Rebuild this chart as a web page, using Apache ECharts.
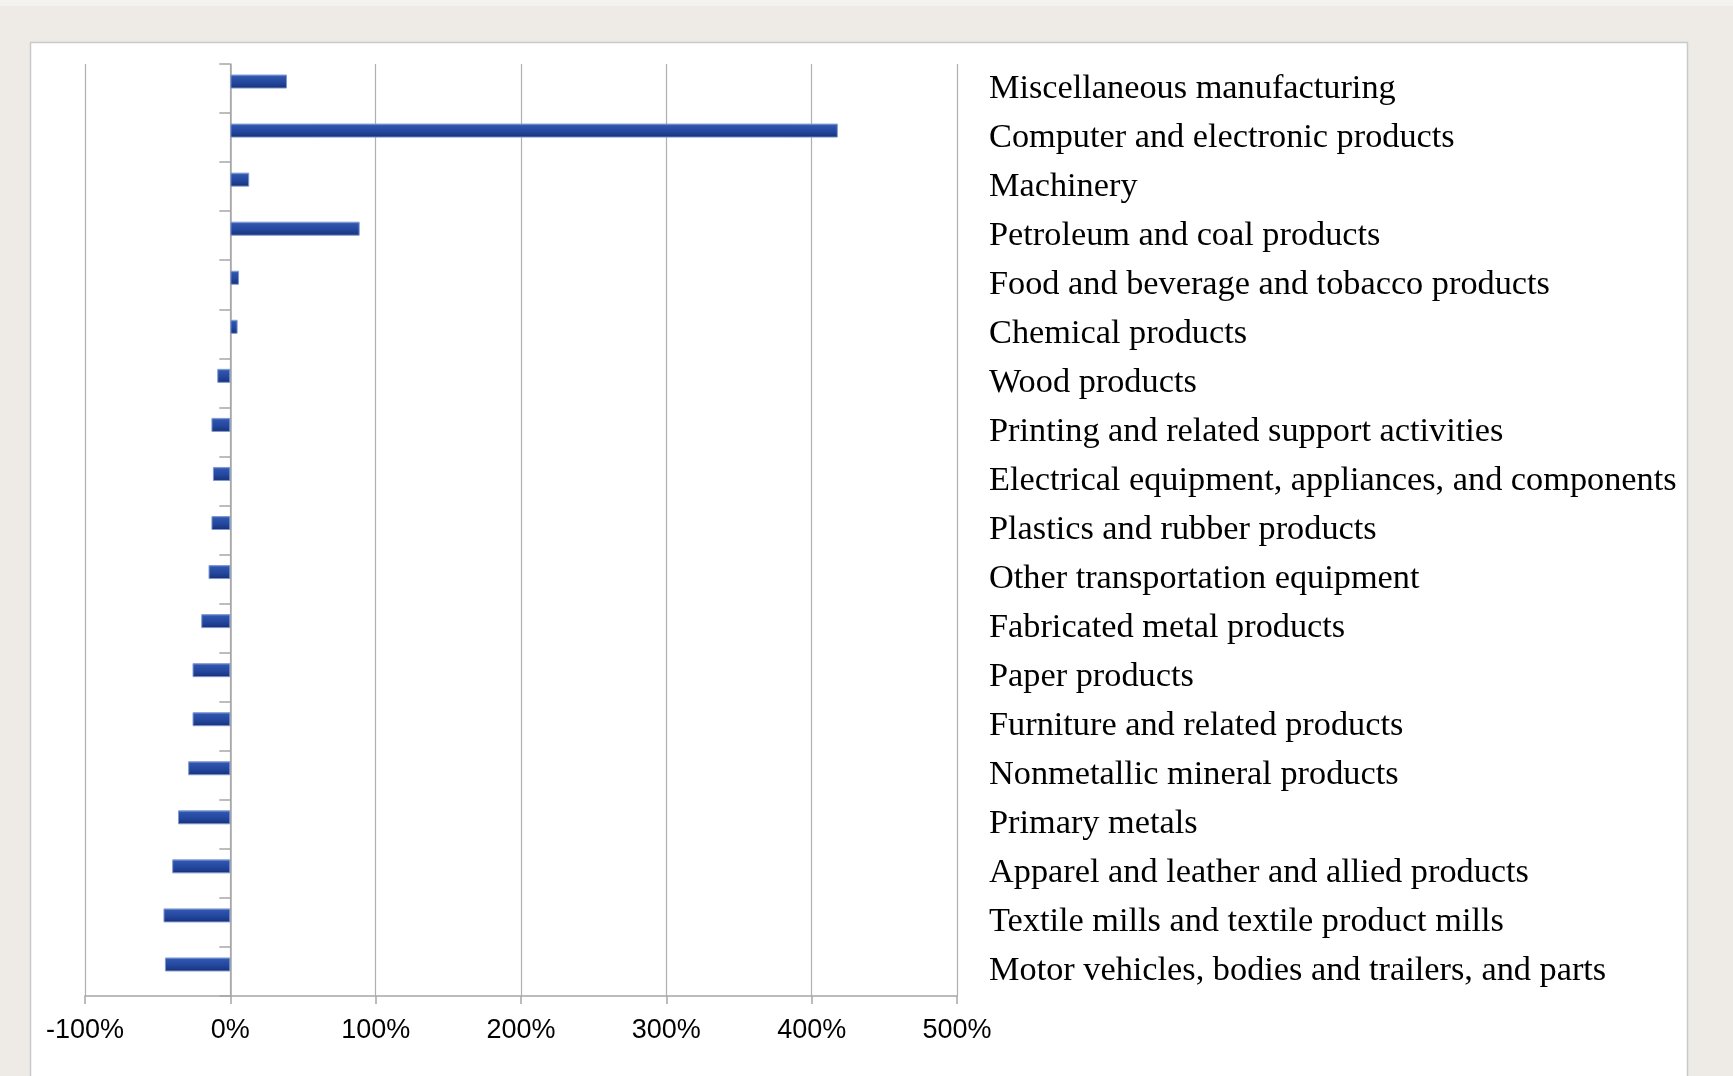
<!DOCTYPE html>
<html>
<head>
<meta charset="utf-8">
<script src="https://cdn.jsdelivr.net/npm/echarts@6/dist/echarts.min.js"></script>
<style>
html,body{margin:0;padding:0;background:#EEEBE6;}
#chart{width:1733px;height:1076px;}
</style>
</head>
<body>
<div id="chart"></div>
<script>
// Categories, top to bottom
const categories = [
  'Miscellaneous manufacturing',
  'Computer and electronic products',
  'Machinery',
  'Petroleum and coal products',
  'Food and beverage and tobacco products',
  'Chemical products',
  'Wood products',
  'Printing and related support activities',
  'Electrical equipment, appliances, and components',
  'Plastics and rubber products',
  'Other transportation equipment',
  'Fabricated metal products',
  'Paper products',
  'Furniture and related products',
  'Nonmetallic mineral products',
  'Primary metals',
  'Apparel and leather and allied products',
  'Textile mills and textile product mills',
  'Motor vehicles, bodies and trailers, and parts'
];
// Percent change (%)
const changeValues = [39, 418, 13, 89, 6, 5, -9, -13, -12, -13, -15, -20, -26, -26, -29, -36, -40, -46, -45];
// Empty second series (as in the original clustered bar layout)
const emptyValues = categories.map(() => null);
// X axis ticks (%)
const xTicks = [-100, 0, 100, 200, 300, 400, 500];

const chart = echarts.init(document.getElementById('chart'), null, {renderer: 'canvas'});

const barColor = new echarts.graphic.LinearGradient(0, 0, 0, 1, [
  {offset: 0, color: '#6F8ED4'},
  {offset: 0.15, color: '#2F55AD'},
  {offset: 0.55, color: '#24479F'},
  {offset: 0.82, color: '#1C3A88'},
  {offset: 1, color: '#132A63'}
]);

const option = {
  backgroundColor: '#EEEBE6',
  animation: false,
  graphic: [
    {type: 'rect', shape: {x: 0, y: 0, width: 1733, height: 6}, style: {fill: '#F4F2EF'}, silent: true, z: -10},
    {type: 'rect', shape: {x: 30.5, y: 42.5, width: 1657, height: 1050}, style: {fill: '#FFFFFF', stroke: '#C9C9C9', lineWidth: 1.5}, silent: true, z: -10}
  ],
  grid: {left: 85, right: 776, top: 64, bottom: 80, containLabel: false},
  xAxis: {
    type: 'value',
    min: xTicks[0],
    max: xTicks[xTicks.length - 1],
    interval: 100,
    axisLine: {show: true, onZero: false, lineStyle: {color: '#A6A6A6', width: 1.5}},
    axisTick: {show: true, inside: false, length: 8, lineStyle: {color: '#A6A6A6', width: 1.5}},
    splitLine: {show: true, lineStyle: {color: '#B0B0B0', width: 1.2}},
    axisLabel: {
      margin: 21,
      color: '#000000',
      fontFamily: "'Liberation Sans', Arial, sans-serif",
      fontSize: 27,
      formatter: v => v + '%'
    }
  },
  yAxis: [
    {
      type: 'category',
      data: categories,
      inverse: true,
      position: 'left',
      axisLine: {show: true, onZero: true, lineStyle: {color: '#A6A6A6', width: 1.5}},
      axisTick: {show: true, inside: false, length: 11, lineStyle: {color: '#A6A6A6', width: 1.5}},
      axisLabel: {show: false},
      splitLine: {show: false}
    },
    {
      type: 'category',
      data: categories,
      inverse: true,
      position: 'right',
      axisLine: {show: false},
      axisTick: {show: false},
      splitLine: {show: false},
      axisLabel: {
        show: true,
        margin: 32,
        align: 'left',
        color: '#000000',
        fontFamily: "'Liberation Serif', 'DejaVu Serif', serif",
        fontSize: 34.3,
        padding: [4, 0, 0, 0]
      }
    }
  ],
  series: [
    {
      name: 'Change',
      type: 'bar',
      yAxisIndex: 0,
      data: changeValues,
      barWidth: 14,
      barGap: '0%',
      itemStyle: {color: barColor, borderColor: '#7F98D2', borderWidth: 1}
    },
    {
      name: 'Empty',
      type: 'bar',
      yAxisIndex: 0,
      data: emptyValues,
      barWidth: 14,
      barGap: '0%'
    }
  ]
};
chart.setOption(option);
</script>
</body>
</html>
